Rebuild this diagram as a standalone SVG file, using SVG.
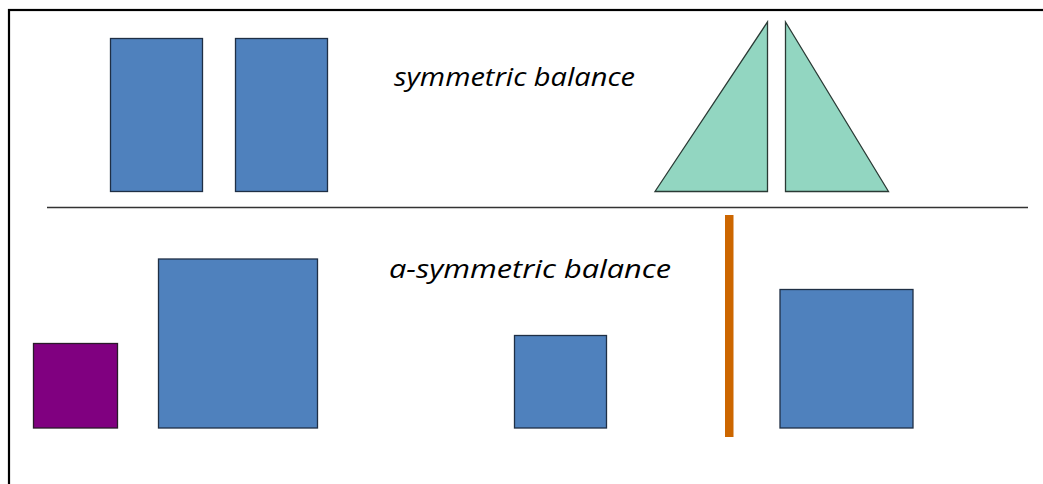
<svg xmlns="http://www.w3.org/2000/svg" width="1043" height="484" viewBox="0 0 1043 484">
<style>
.blue{fill:#4F81BD;stroke:#1F2F45;stroke-width:1.3}
.tri{fill:#92D6C1;stroke:#2A3A35;stroke-width:1.3;stroke-linejoin:miter}
.lbl{font-family:"Open Sans","Liberation Sans",sans-serif;font-style:italic;font-size:25px;fill:#000}
</style>
<rect x="0" y="0" width="1043" height="484" fill="#fff"/>
<rect id="frame" x="9" y="10" width="1045" height="490" fill="none" stroke="#000" stroke-width="2.2"/>
<g id="connectors">
<line x1="47" y1="207.5" x2="1028" y2="207.5" stroke="#333" stroke-width="1.3"/>
</g>
<g id="sym-rect-1"><rect class="blue" x="110.5" y="38.5" width="92" height="153"/></g>
<g id="sym-rect-2"><rect class="blue" x="235.5" y="38.5" width="92" height="153"/></g>
<g id="sym-label"><text class="lbl" x="394" y="86" textLength="241" lengthAdjust="spacingAndGlyphs">symmetric balance</text></g>
<g id="tri-left"><polygon class="tri" points="655,191.5 767.5,22 767.5,191.5"/></g>
<g id="tri-right"><polygon class="tri" points="785.5,22 888.5,191.5 785.5,191.5"/></g>
<g id="asym-label"><text class="lbl" x="389" y="278" textLength="282" lengthAdjust="spacingAndGlyphs">a-symmetric balance</text></g>
<g id="purple-square"><rect x="33.5" y="343.5" width="84" height="84.5" fill="#800080" stroke="#2A1A2A" stroke-width="1.3"/></g>
<g id="big-square"><rect class="blue" x="158.5" y="259" width="159" height="169"/></g>
<g id="small-square"><rect class="blue" x="514.5" y="335.5" width="92" height="92.5"/></g>
<g id="fulcrum"><rect x="725" y="215" width="8.5" height="222" fill="#CC6600"/></g>
<g id="right-square"><rect class="blue" x="780" y="289.5" width="133" height="138.5"/></g>
</svg>
